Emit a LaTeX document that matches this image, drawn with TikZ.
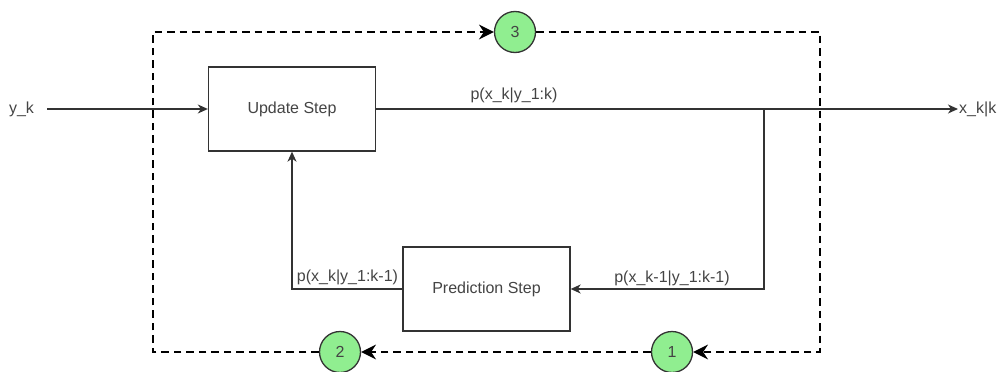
\documentclass[tikz,border=0pt]{standalone}
\usepackage{fontspec}
\setmainfont{Liberation Sans}
\usetikzlibrary{arrows.meta}
\definecolor{ink}{HTML}{333333}
\definecolor{txt}{HTML}{444444}
\definecolor{stepgreen}{HTML}{90EE90}
\tikzset{
  stepbox/.style={draw=ink, line width=1.3pt, fill=white, minimum width=167pt, minimum height=84pt, inner sep=0pt, text=txt, font=\fontsize{16}{19}\selectfont},
  lbl/.style={inner sep=0pt, text=txt, font=\fontsize{16}{19}\selectfont},
  stage/.style={circle, draw=ink, line width=1.3pt, fill=stepgreen, minimum size=41pt, inner sep=0pt, text=txt, font=\fontsize{16}{19}\selectfont},
  flow/.style={draw=ink, line width=1.3pt, -{Stealth[length=10pt, width=9pt, inset=3pt]}},
  plain/.style={draw=ink, line width=1.3pt},
  frame/.style={draw=black, line width=2.6pt, dash pattern=on 7.5pt off 5pt},
  framearrow/.style={frame, -{Stealth[length=15pt, width=15pt, inset=5pt, line width=0pt]}},
}
\begin{document}
\begin{tikzpicture}[x=1pt, y=-1pt]
  \useasboundingbox (0,0) rectangle (999,372);

  % corners of the dashed loop
  \coordinate (tl) at (153,32);
  \coordinate (tr) at (820,32);
  \coordinate (br) at (820,352);
  \coordinate (bl) at (153,352);

  % numbered stages on the loop
  \node[stage] (c3) at (515,32) {3};
  \node[stage] (c1) at (672,352) {1};
  \node[stage] (c2) at (340,352) {2};

  % dashed loop: 3 -> 1 -> 2 -> 3
  \draw[framearrow] (c3.east) -- (tr) -- (br) -- (c1.east);
  \draw[framearrow] (c1.west) -- (c2.east);
  \draw[framearrow] (c2.west) -- (bl) -- (tl) -- (c3.west);

  % filter steps
  \node[stepbox] (upd) at (292,109) {Update Step};
  \node[stepbox] (pred) at (486.5,289) {Prediction Step};

  % input and output
  \node[lbl] (yk) at (21.5,109) {y\_k};
  \coordinate (out) at (958,109);
  \node[lbl, anchor=west] (xk) at (959,109) {x\_k|k};
  \coordinate (branch) at (764,109);

  \draw[flow] ([xshift=13pt]yk.east) -- (upd.west);
  \draw[flow] (upd.east) -- (out);
  \draw[flow] (branch) |- (pred.east);
  \draw[flow] (pred.west) -| (upd.south);

  % densities carried along the connectors
  \node[lbl] (post) at (514,95) {p(x\_k|y\_1:k)};
  \node[lbl] (prevpost) at (672,278) {p(x\_k-1|y\_1:k-1)};
  \node[lbl] (prior) at (347.5,277) {p(x\_k|y\_1:k-1)};
\end{tikzpicture}
\end{document}
